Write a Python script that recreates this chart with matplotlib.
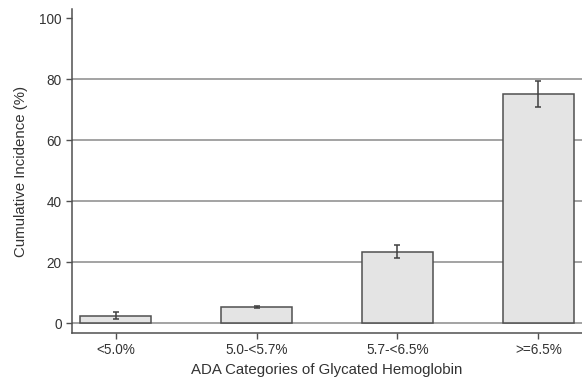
import numpy as np
import matplotlib.pyplot as plt

plt.rcParams['font.family'] = ['Liberation Sans', 'DejaVu Sans']

categories = ['<5.0%', '5.0-<5.7%', '5.7-<6.5%', '>=6.5%']
incidence = [2.4, 5.4, 23.5, 75.3]
ci_low = [1.5, 5.0, 21.4, 70.9]
ci_high = [3.7, 5.8, 25.5, 79.3]

fig = plt.figure(figsize=(5.82, 3.80), dpi=100)
ax = fig.add_axes([72 / 582, 1 - 333 / 380, 1 - 72 / 582, (333 - 9) / 380])

x = np.arange(len(categories))
inc = np.array(incidence)
yerr = [inc - np.array(ci_low), np.array(ci_high) - inc]

for y in [0, 20, 40, 60, 80]:
    ax.axhline(y, color='#8a8a8a', lw=1.1, zorder=0)

ax.bar(x, inc, width=0.5, color='#e4e4e4', edgecolor='#505050', linewidth=1.1, zorder=2)
ax.errorbar(x, inc, yerr=yerr, fmt='none', ecolor='#404040', elinewidth=1.1,
            capsize=2.5, capthick=1.1, zorder=3)

ax.set_xlim(-0.31, 3.31)
ax.set_ylim(-3.2, 103)
ax.set_yticks([0, 20, 40, 60, 80, 100])
ax.set_xticks(x)
ax.set_xticklabels(categories)

for s in ['top', 'right']:
    ax.spines[s].set_visible(False)
for s in ['left', 'bottom']:
    ax.spines[s].set_color('#505050')
    ax.spines[s].set_linewidth(1.1)

ax.tick_params(axis='both', colors='#505050', length=4, width=1, labelsize=9.8,
               labelcolor='#333333')
ax.set_xlabel('ADA Categories of Glycated Hemoglobin', fontsize=10.8, color='#333333', labelpad=4)
ax.set_ylabel('Cumulative Incidence (%)', fontsize=10.8, color='#333333', labelpad=8)

fig.savefig('out.png', dpi=100)
